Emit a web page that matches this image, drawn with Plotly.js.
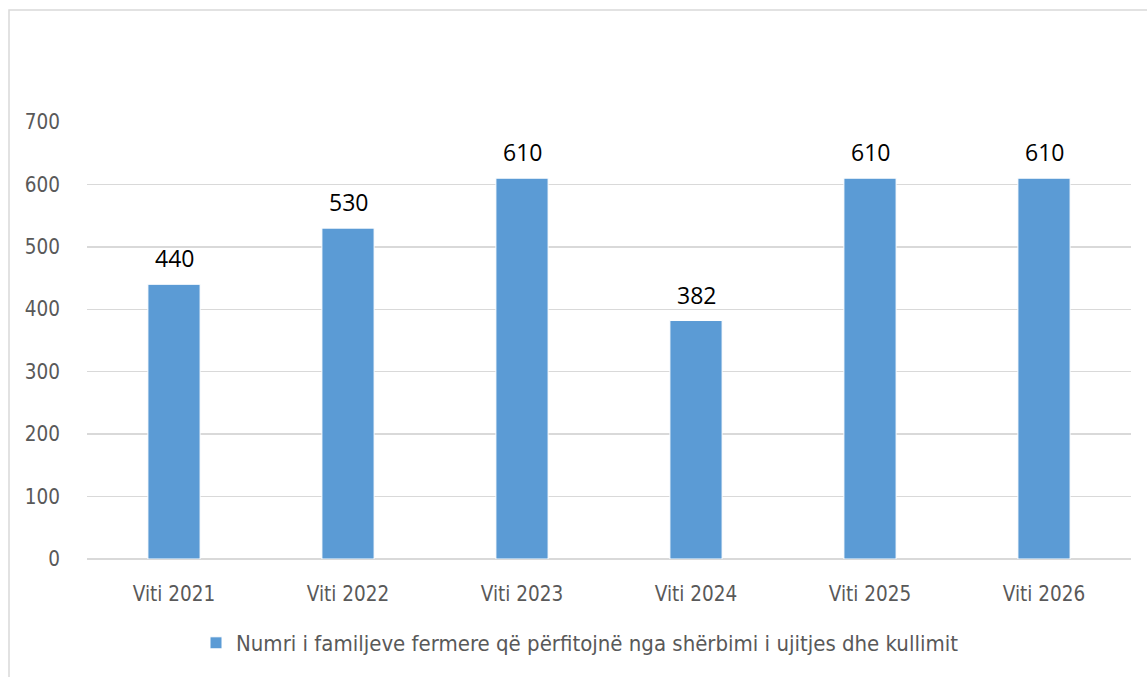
<!DOCTYPE html>
<html><head><meta charset="utf-8">
<script src="https://cdn.plot.ly/plotly-3.0.1.min.js"></script>
<style>html,body{margin:0;padding:0;background:#fff}#c{width:1147px;height:677px}</style>
</head><body><div id="c"></div>
<script>
const categories = ["Viti 2021","Viti 2022","Viti 2023","Viti 2024","Viti 2025","Viti 2026"];
const values = [440, 530, 610, 382, 610, 610];
const seriesName = "Numri i familjeve fermere që përfitojnë nga shërbimi i ujitjes dhe kullimit";
const yTicks = [0,100,200,300,400,500,600,700];

const L=87, R=16, T=122, B=118, W=1147, H=677;
const pw = W-L-R, ph = H-T-B;
const FONT = 'DejaVu Sans Condensed, sans-serif';

Plotly.newPlot('c', [{
  type:'bar', x:categories, y:values, name:seriesName,
  width:0.3,
  marker:{color:'#5B9BD5', line:{color:'#ffffff', width:1}},
  hoverinfo:'none'
}], {
  width:W, height:H,
  margin:{l:L, r:R, t:T, b:B, pad:0},
  paper_bgcolor:'#ffffff', plot_bgcolor:'#ffffff',
  showlegend:true,
  legend:{orientation:'h', x:(580-L)/pw, xanchor:'center', y:-(643-T-ph)/ph, yanchor:'middle',
    itemwidth:30, font:{family:FONT, size:22, color:'#595959'}},
  xaxis:{tickfont:{family:FONT, size:20.5, color:'#595959'},
    showline:false, ticks:'outside', ticklen:16, tickcolor:'rgba(0,0,0,0)', showgrid:false, fixedrange:true},
  yaxis:{range:[0,700], tickvals:yTicks, ticktext:yTicks.map(String),
    tickfont:{family:FONT, size:20.5, color:'#595959'},
    gridcolor:'#D9D9D9', gridwidth:1.5, zeroline:true, zerolinecolor:'#D9D9D9', zerolinewidth:1.5,
    showline:false, ticks:'outside', ticklen:22, tickcolor:'rgba(0,0,0,0)', fixedrange:true},
  annotations: categories.map((c,i)=>({x:c, y:values[i], xref:'x', yref:'y', text:String(values[i]),
    showarrow:false, yanchor:'bottom', yshift:8,
    font:{family:'Open Sans, sans-serif', size:23, color:'#000000'}})),
  shapes:[{type:'rect', xref:'paper', yref:'paper',
    x0:(9-L)/pw, x1:(1160-L)/pw, y0:-(700-T-ph)/ph, y1:1+(T-10)/ph,
    line:{color:'#D9D9D9', width:1.5}, fillcolor:'rgba(0,0,0,0)', layer:'below'}]
}, {displayModeBar:false, staticPlot:true});
</script></body></html>
